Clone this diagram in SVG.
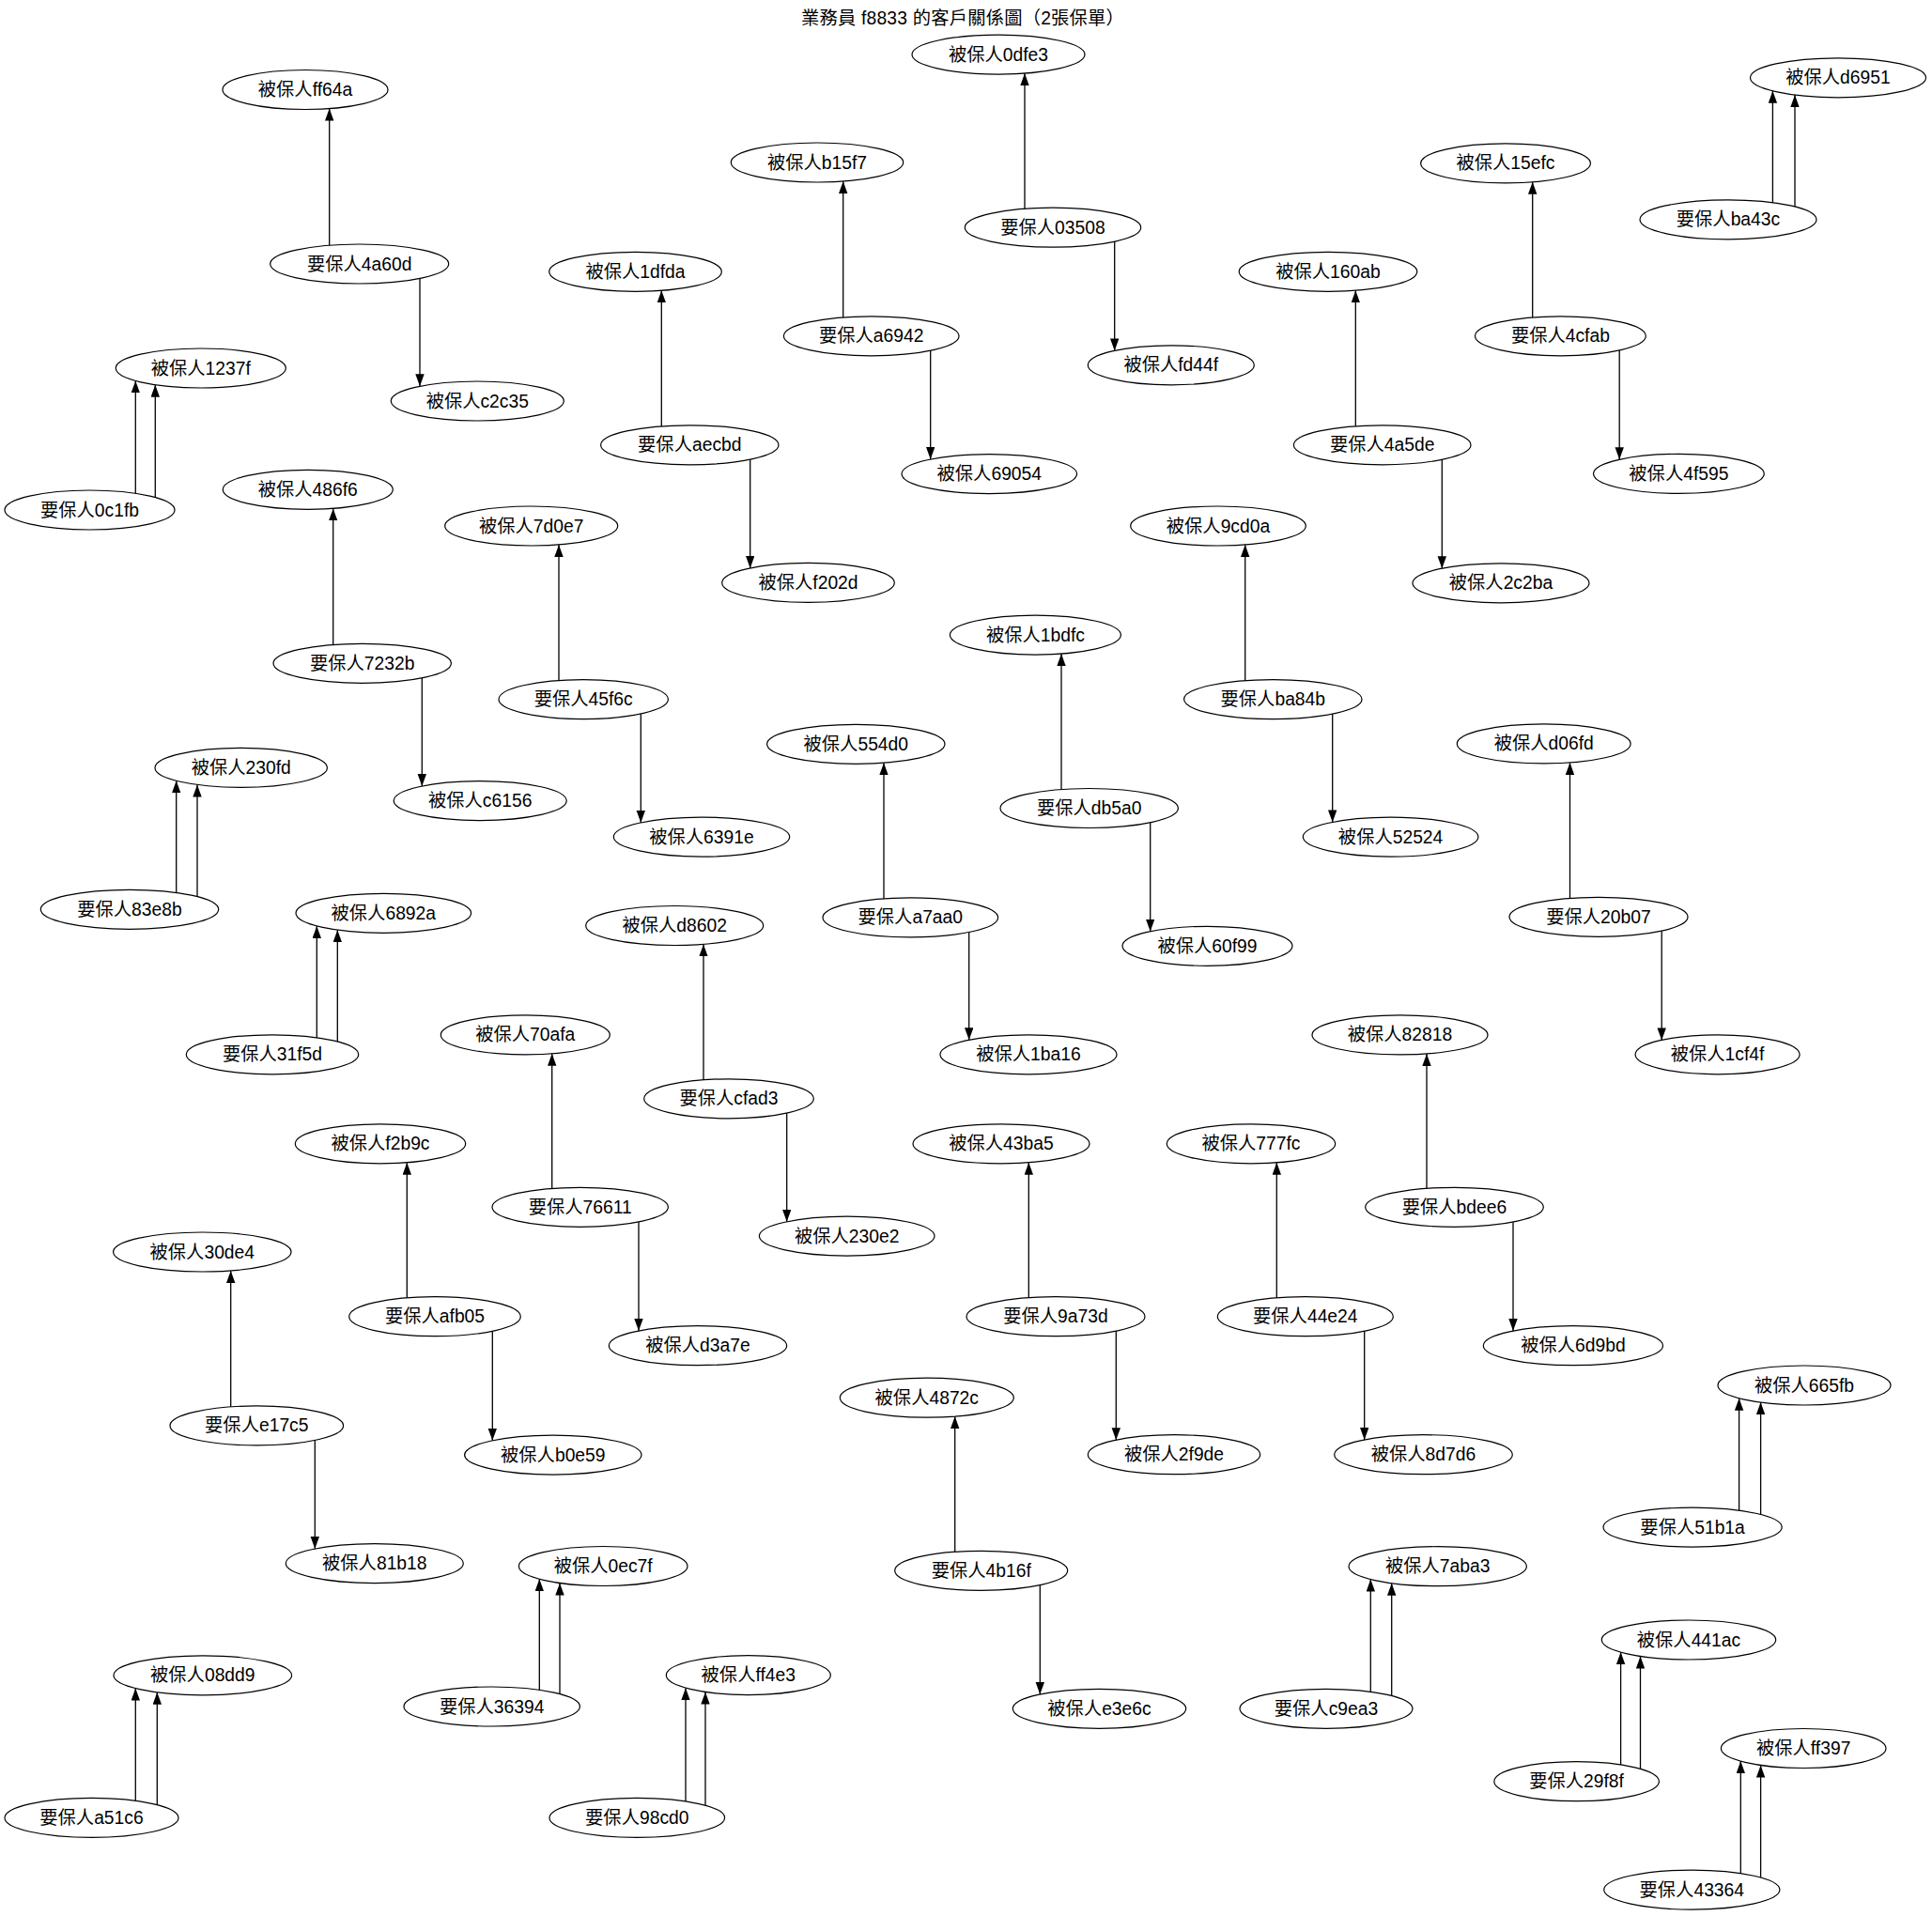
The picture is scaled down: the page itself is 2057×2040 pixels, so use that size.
<svg xmlns="http://www.w3.org/2000/svg" width="2057" height="2040" viewBox="0 0 2057 2040">
<style>
.n ellipse{fill:#fff;stroke:#000;stroke-width:1.2}
text{font-family:"Liberation Sans","Noto Sans CJK TC",sans-serif;font-size:19.3px;text-anchor:middle;fill:#000}
.e line{stroke:#000;stroke-width:1.3;marker-end:url(#ah)}
</style>
<defs>
<marker id="ah" markerUnits="userSpaceOnUse" markerWidth="14" markerHeight="10" refX="13" refY="4.7" orient="auto"><path d="M0,0 L13,4.7 L0,9.4 z" fill="#000"/></marker>
</defs>
<rect width="2057" height="2040" fill="#fff"/>
<text id="title" x="1025" y="26" letter-spacing="0.2">業務員 f8833 的客戶關係圖<tspan>（2張保單）</tspan></text>
<g id="connectors" class="e">
<line x1="350.7" y1="281" x2="350.7" y2="115.6"/>
<line x1="447" y1="281" x2="447" y2="411.3"/>
<line x1="144.3" y1="543" x2="144.3" y2="405.4"/>
<line x1="165.3" y1="543" x2="165.3" y2="409.7"/>
<line x1="354.7" y1="706.3" x2="354.7" y2="541.4"/>
<line x1="449.3" y1="706.3" x2="449.3" y2="837.1"/>
<line x1="1091" y1="242.2" x2="1091" y2="78.1"/>
<line x1="1186.7" y1="242.2" x2="1186.7" y2="373.4"/>
<line x1="897.7" y1="357.8" x2="897.7" y2="193"/>
<line x1="990.7" y1="357.8" x2="990.7" y2="489"/>
<line x1="704.3" y1="473.8" x2="704.3" y2="309.3"/>
<line x1="798.7" y1="473.8" x2="798.7" y2="604.9"/>
<line x1="595" y1="744.6" x2="595" y2="579.9"/>
<line x1="682.3" y1="744.6" x2="682.3" y2="875.9"/>
<line x1="1443.3" y1="473.8" x2="1443.3" y2="309.3"/>
<line x1="1535.3" y1="473.8" x2="1535.3" y2="605.2"/>
<line x1="1631.7" y1="357.8" x2="1631.7" y2="193.8"/>
<line x1="1724.2" y1="357.8" x2="1724.2" y2="489.3"/>
<line x1="1887.4" y1="233.8" x2="1887.4" y2="96.8"/>
<line x1="1911" y1="233.8" x2="1911" y2="101.1"/>
<line x1="1325.7" y1="744.6" x2="1325.7" y2="580"/>
<line x1="1418.7" y1="744.6" x2="1418.7" y2="875.4"/>
<line x1="1130" y1="860.5" x2="1130" y2="696.1"/>
<line x1="1224.7" y1="860.5" x2="1224.7" y2="991.7"/>
<line x1="941" y1="976.9" x2="941" y2="812.2"/>
<line x1="1031.7" y1="976.9" x2="1031.7" y2="1107.3"/>
<line x1="1671.5" y1="976.3" x2="1671.5" y2="811.9"/>
<line x1="1769.2" y1="976.3" x2="1769.2" y2="1107.4"/>
<line x1="187.7" y1="968.3" x2="187.7" y2="831.2"/>
<line x1="210" y1="968.3" x2="210" y2="835.5"/>
<line x1="337.3" y1="1122.8" x2="337.3" y2="985.9"/>
<line x1="359.3" y1="1122.8" x2="359.3" y2="990.2"/>
<line x1="749" y1="1169.8" x2="749" y2="1005.4"/>
<line x1="837.7" y1="1169.8" x2="837.7" y2="1300.8"/>
<line x1="587.7" y1="1285.3" x2="587.7" y2="1121.8"/>
<line x1="680" y1="1285.3" x2="680" y2="1417"/>
<line x1="433.3" y1="1401.7" x2="433.3" y2="1237.8"/>
<line x1="524.3" y1="1401.7" x2="524.3" y2="1533.8"/>
<line x1="245.7" y1="1517.9" x2="245.7" y2="1352.9"/>
<line x1="335.3" y1="1517.9" x2="335.3" y2="1649.1"/>
<line x1="144.3" y1="1935.4" x2="144.3" y2="1797.6"/>
<line x1="167.3" y1="1935.4" x2="167.3" y2="1801.8"/>
<line x1="574.3" y1="1817" x2="574.3" y2="1681.2"/>
<line x1="596" y1="1817" x2="596" y2="1685.5"/>
<line x1="730" y1="1935.4" x2="730" y2="1797.2"/>
<line x1="751" y1="1935.4" x2="751" y2="1801.5"/>
<line x1="1095.3" y1="1401.7" x2="1095.3" y2="1237.8"/>
<line x1="1188.3" y1="1401.7" x2="1188.3" y2="1533.2"/>
<line x1="1359.3" y1="1401.7" x2="1359.3" y2="1237.8"/>
<line x1="1452.7" y1="1401.7" x2="1452.7" y2="1533"/>
<line x1="1519" y1="1285.3" x2="1519" y2="1121.9"/>
<line x1="1611" y1="1285.3" x2="1611" y2="1417.1"/>
<line x1="1016.7" y1="1672.3" x2="1016.7" y2="1508.1"/>
<line x1="1107.3" y1="1672.3" x2="1107.3" y2="1804"/>
<line x1="1459.3" y1="1819.3" x2="1459.3" y2="1681.5"/>
<line x1="1481.7" y1="1819.3" x2="1481.7" y2="1685.7"/>
<line x1="1851.6" y1="1626.1" x2="1851.6" y2="1488.8"/>
<line x1="1874.6" y1="1626.1" x2="1874.6" y2="1493.1"/>
<line x1="1725.6" y1="1896.7" x2="1725.6" y2="1759.1"/>
<line x1="1746.5" y1="1896.7" x2="1746.5" y2="1763.5"/>
<line x1="1853.3" y1="2012.1" x2="1853.3" y2="1875.1"/>
<line x1="1874.6" y1="2012.1" x2="1874.6" y2="1879.5"/>
</g>
<g id="nodes">
<g id="n-ff64a" class="n"><ellipse cx="325" cy="95.5" rx="88" ry="21"/><text x="325" y="102">被保人ff64a</text></g>
<g id="n-4a60d" class="n"><ellipse cx="382.7" cy="281" rx="95" ry="21"/><text x="382.7" y="287.5">要保人4a60d</text></g>
<g id="n-c2c35" class="n"><ellipse cx="508.3" cy="427" rx="92" ry="21"/><text x="508.3" y="433.5">被保人c2c35</text></g>
<g id="n-1237f" class="n"><ellipse cx="213.8" cy="392" rx="90.5" ry="21"/><text x="213.8" y="398.5">被保人1237f</text></g>
<g id="n-0c1fb" class="n"><ellipse cx="95.5" cy="543" rx="90.5" ry="21"/><text x="95.5" y="549.5">要保人0c1fb</text></g>
<g id="n-486f6" class="n"><ellipse cx="327.8" cy="521.3" rx="90.5" ry="21"/><text x="327.8" y="527.8">被保人486f6</text></g>
<g id="n-7232b" class="n"><ellipse cx="385.7" cy="706.3" rx="94.7" ry="21"/><text x="385.7" y="712.8">要保人7232b</text></g>
<g id="n-c6156" class="n"><ellipse cx="511.2" cy="852.6" rx="92" ry="21"/><text x="511.2" y="859.1">被保人c6156</text></g>
<g id="n-0dfe3" class="n"><ellipse cx="1063" cy="58.1" rx="92" ry="21"/><text x="1063" y="64.6">被保人0dfe3</text></g>
<g id="n-03508" class="n"><ellipse cx="1121" cy="242.2" rx="93.7" ry="21"/><text x="1121" y="248.7">要保人03508</text></g>
<g id="n-fd44f" class="n"><ellipse cx="1246.8" cy="388.8" rx="88.5" ry="21"/><text x="1246.8" y="395.3">被保人fd44f</text></g>
<g id="n-b15f7" class="n"><ellipse cx="870" cy="173" rx="91.7" ry="21"/><text x="870" y="179.5">被保人b15f7</text></g>
<g id="n-a6942" class="n"><ellipse cx="927.7" cy="357.8" rx="93.3" ry="21"/><text x="927.7" y="364.3">要保人a6942</text></g>
<g id="n-69054" class="n"><ellipse cx="1053.3" cy="504.6" rx="93.3" ry="21"/><text x="1053.3" y="511.1">被保人69054</text></g>
<g id="n-1dfda" class="n"><ellipse cx="676.5" cy="289.3" rx="91.8" ry="21"/><text x="676.5" y="295.8">被保人1dfda</text></g>
<g id="n-aecbd" class="n"><ellipse cx="734.3" cy="473.8" rx="94.7" ry="21"/><text x="734.3" y="480.3">要保人aecbd</text></g>
<g id="n-f202d" class="n"><ellipse cx="860.5" cy="620.4" rx="91.8" ry="21"/><text x="860.5" y="626.9">被保人f202d</text></g>
<g id="n-7d0e7" class="n"><ellipse cx="565.7" cy="560" rx="92" ry="21"/><text x="565.7" y="566.5">被保人7d0e7</text></g>
<g id="n-45f6c" class="n"><ellipse cx="621.2" cy="744.6" rx="90.2" ry="21"/><text x="621.2" y="751.1">要保人45f6c</text></g>
<g id="n-6391e" class="n"><ellipse cx="747" cy="891.1" rx="93.7" ry="21"/><text x="747" y="897.6">被保人6391e</text></g>
<g id="n-160ab" class="n"><ellipse cx="1414" cy="289.3" rx="94.8" ry="21"/><text x="1414" y="295.8">被保人160ab</text></g>
<g id="n-4a5de" class="n"><ellipse cx="1471.7" cy="473.8" rx="94.3" ry="21"/><text x="1471.7" y="480.3">要保人4a5de</text></g>
<g id="n-2c2ba" class="n"><ellipse cx="1598" cy="620.8" rx="94" ry="21"/><text x="1598" y="627.3">被保人2c2ba</text></g>
<g id="n-15efc" class="n"><ellipse cx="1603" cy="173.9" rx="90.4" ry="21"/><text x="1603" y="180.4">被保人15efc</text></g>
<g id="n-4cfab" class="n"><ellipse cx="1661.4" cy="357.8" rx="90.9" ry="21"/><text x="1661.4" y="364.3">要保人4cfab</text></g>
<g id="n-4f595" class="n"><ellipse cx="1787.4" cy="504.4" rx="90.9" ry="21"/><text x="1787.4" y="510.9">被保人4f595</text></g>
<g id="n-d6951" class="n"><ellipse cx="1957" cy="82.8" rx="93.5" ry="21"/><text x="1957" y="89.3">被保人d6951</text></g>
<g id="n-ba43c" class="n"><ellipse cx="1840" cy="233.8" rx="94" ry="21"/><text x="1840" y="240.3">要保人ba43c</text></g>
<g id="n-9cd0a" class="n"><ellipse cx="1297" cy="560" rx="93.3" ry="21"/><text x="1297" y="566.5">被保人9cd0a</text></g>
<g id="n-ba84b" class="n"><ellipse cx="1355.3" cy="744.6" rx="94.7" ry="21"/><text x="1355.3" y="751.1">要保人ba84b</text></g>
<g id="n-52524" class="n"><ellipse cx="1480.6" cy="891.1" rx="93.3" ry="21"/><text x="1480.6" y="897.6">被保人52524</text></g>
<g id="n-1bdfc" class="n"><ellipse cx="1102.4" cy="676.1" rx="91" ry="21"/><text x="1102.4" y="682.6">被保人1bdfc</text></g>
<g id="n-db5a0" class="n"><ellipse cx="1159.7" cy="860.5" rx="94.7" ry="21"/><text x="1159.7" y="867">要保人db5a0</text></g>
<g id="n-60f99" class="n"><ellipse cx="1285.5" cy="1007.3" rx="90.5" ry="21"/><text x="1285.5" y="1013.8">被保人60f99</text></g>
<g id="n-554d0" class="n"><ellipse cx="911.3" cy="792.3" rx="94.7" ry="21"/><text x="911.3" y="798.8">被保人554d0</text></g>
<g id="n-a7aa0" class="n"><ellipse cx="969.3" cy="976.9" rx="93.3" ry="21"/><text x="969.3" y="983.4">要保人a7aa0</text></g>
<g id="n-1ba16" class="n"><ellipse cx="1095" cy="1122.8" rx="94" ry="21"/><text x="1095" y="1129.3">被保人1ba16</text></g>
<g id="n-d06fd" class="n"><ellipse cx="1643.7" cy="791.9" rx="92.4" ry="21"/><text x="1643.7" y="798.4">被保人d06fd</text></g>
<g id="n-20b07" class="n"><ellipse cx="1702" cy="976.3" rx="95" ry="21"/><text x="1702" y="982.8">要保人20b07</text></g>
<g id="n-1cf4f" class="n"><ellipse cx="1828.6" cy="1122.8" rx="87.5" ry="21"/><text x="1828.6" y="1129.3">被保人1cf4f</text></g>
<g id="n-230fd" class="n"><ellipse cx="256.7" cy="817.4" rx="91.7" ry="21"/><text x="256.7" y="823.9">被保人230fd</text></g>
<g id="n-83e8b" class="n"><ellipse cx="138" cy="968.3" rx="94.7" ry="21"/><text x="138" y="974.8">要保人83e8b</text></g>
<g id="n-6892a" class="n"><ellipse cx="408.3" cy="972.3" rx="93.3" ry="21"/><text x="408.3" y="978.8">被保人6892a</text></g>
<g id="n-31f5d" class="n"><ellipse cx="290" cy="1122.8" rx="91.7" ry="21"/><text x="290" y="1129.3">要保人31f5d</text></g>
<g id="n-d8602" class="n"><ellipse cx="718.2" cy="985.5" rx="94.5" ry="21"/><text x="718.2" y="992">被保人d8602</text></g>
<g id="n-cfad3" class="n"><ellipse cx="776" cy="1169.8" rx="90.3" ry="21"/><text x="776" y="1176.3">要保人cfad3</text></g>
<g id="n-230e2" class="n"><ellipse cx="901.7" cy="1316.1" rx="93.3" ry="21"/><text x="901.7" y="1322.6">被保人230e2</text></g>
<g id="n-70afa" class="n"><ellipse cx="559.3" cy="1101.9" rx="90" ry="21"/><text x="559.3" y="1108.4">被保人70afa</text></g>
<g id="n-76611" class="n"><ellipse cx="617.7" cy="1285.3" rx="93.7" ry="21"/><text x="617.7" y="1291.8">要保人76611</text></g>
<g id="n-d3a7e" class="n"><ellipse cx="743" cy="1432.7" rx="94.7" ry="21"/><text x="743" y="1439.2">被保人d3a7e</text></g>
<g id="n-f2b9c" class="n"><ellipse cx="405" cy="1217.8" rx="90.7" ry="21"/><text x="405" y="1224.3">被保人f2b9c</text></g>
<g id="n-afb05" class="n"><ellipse cx="463" cy="1401.7" rx="91.3" ry="21"/><text x="463" y="1408.2">要保人afb05</text></g>
<g id="n-b0e59" class="n"><ellipse cx="588.8" cy="1549.1" rx="94.2" ry="21"/><text x="588.8" y="1555.6">被保人b0e59</text></g>
<g id="n-30de4" class="n"><ellipse cx="215.3" cy="1333" rx="94.7" ry="21"/><text x="215.3" y="1339.5">被保人30de4</text></g>
<g id="n-e17c5" class="n"><ellipse cx="273.3" cy="1517.9" rx="92.3" ry="21"/><text x="273.3" y="1524.4">要保人e17c5</text></g>
<g id="n-81b18" class="n"><ellipse cx="398.8" cy="1664.6" rx="94.5" ry="21"/><text x="398.8" y="1671.1">被保人81b18</text></g>
<g id="n-08dd9" class="n"><ellipse cx="215.8" cy="1783.8" rx="94.8" ry="21"/><text x="215.8" y="1790.3">被保人08dd9</text></g>
<g id="n-a51c6" class="n"><ellipse cx="97.5" cy="1935.4" rx="92.5" ry="21"/><text x="97.5" y="1941.9">要保人a51c6</text></g>
<g id="n-0ec7f" class="n"><ellipse cx="642.2" cy="1667.5" rx="89.8" ry="21"/><text x="642.2" y="1674">被保人0ec7f</text></g>
<g id="n-36394" class="n"><ellipse cx="523.7" cy="1817" rx="93.7" ry="21"/><text x="523.7" y="1823.5">要保人36394</text></g>
<g id="n-ff4e3" class="n"><ellipse cx="796.8" cy="1783.6" rx="87.5" ry="21"/><text x="796.8" y="1790.1">被保人ff4e3</text></g>
<g id="n-98cd0" class="n"><ellipse cx="678.3" cy="1935.4" rx="93.3" ry="21"/><text x="678.3" y="1941.9">要保人98cd0</text></g>
<g id="n-43ba5" class="n"><ellipse cx="1066" cy="1217.8" rx="94" ry="21"/><text x="1066" y="1224.3">被保人43ba5</text></g>
<g id="n-9a73d" class="n"><ellipse cx="1124" cy="1401.7" rx="95" ry="21"/><text x="1124" y="1408.2">要保人9a73d</text></g>
<g id="n-2f9de" class="n"><ellipse cx="1250" cy="1548.7" rx="91.7" ry="21"/><text x="1250" y="1555.2">被保人2f9de</text></g>
<g id="n-777fc" class="n"><ellipse cx="1332" cy="1217.8" rx="89.7" ry="21"/><text x="1332" y="1224.3">被保人777fc</text></g>
<g id="n-44e24" class="n"><ellipse cx="1389.8" cy="1401.7" rx="93.5" ry="21"/><text x="1389.8" y="1408.2">要保人44e24</text></g>
<g id="n-8d7d6" class="n"><ellipse cx="1515.5" cy="1548.7" rx="94.8" ry="21"/><text x="1515.5" y="1555.2">被保人8d7d6</text></g>
<g id="n-82818" class="n"><ellipse cx="1490.5" cy="1101.9" rx="93.5" ry="21"/><text x="1490.5" y="1108.4">被保人82818</text></g>
<g id="n-bdee6" class="n"><ellipse cx="1548.5" cy="1285.3" rx="94.8" ry="21"/><text x="1548.5" y="1291.8">要保人bdee6</text></g>
<g id="n-6d9bd" class="n"><ellipse cx="1674.9" cy="1432.7" rx="95.6" ry="21"/><text x="1674.9" y="1439.2">被保人6d9bd</text></g>
<g id="n-4872c" class="n"><ellipse cx="986.8" cy="1488.2" rx="92.5" ry="21"/><text x="986.8" y="1494.7">被保人4872c</text></g>
<g id="n-4b16f" class="n"><ellipse cx="1044.7" cy="1672.3" rx="92" ry="21"/><text x="1044.7" y="1678.8">要保人4b16f</text></g>
<g id="n-e3e6c" class="n"><ellipse cx="1170.5" cy="1819.3" rx="92.2" ry="21"/><text x="1170.5" y="1825.8">被保人e3e6c</text></g>
<g id="n-7aba3" class="n"><ellipse cx="1530.7" cy="1667.7" rx="94.7" ry="21"/><text x="1530.7" y="1674.2">被保人7aba3</text></g>
<g id="n-c9ea3" class="n"><ellipse cx="1412" cy="1819.3" rx="92" ry="21"/><text x="1412" y="1825.8">要保人c9ea3</text></g>
<g id="n-665fb" class="n"><ellipse cx="1921" cy="1475" rx="92" ry="21"/><text x="1921" y="1481.5">被保人665fb</text></g>
<g id="n-51b1a" class="n"><ellipse cx="1802.1" cy="1626.1" rx="95.1" ry="21"/><text x="1802.1" y="1632.6">要保人51b1a</text></g>
<g id="n-441ac" class="n"><ellipse cx="1798" cy="1746" rx="92.7" ry="21"/><text x="1798" y="1752.5">被保人441ac</text></g>
<g id="n-29f8f" class="n"><ellipse cx="1678.6" cy="1896.7" rx="87.8" ry="21"/><text x="1678.6" y="1903.2">要保人29f8f</text></g>
<g id="n-ff397" class="n"><ellipse cx="1920.2" cy="1861.5" rx="87.8" ry="21"/><text x="1920.2" y="1868">被保人ff397</text></g>
<g id="n-43364" class="n"><ellipse cx="1801.3" cy="2012.1" rx="93.6" ry="21"/><text x="1801.3" y="2018.6">要保人43364</text></g>
</g>
</svg>
